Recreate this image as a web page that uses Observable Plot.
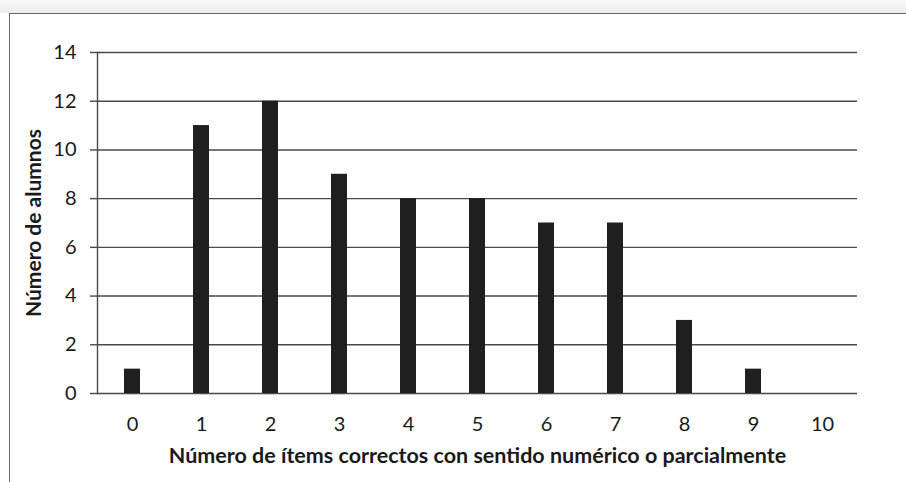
<!DOCTYPE html>
<html>
<head>
<meta charset="utf-8">
<script src="https://cdn.jsdelivr.net/npm/d3@7"></script>
<script src="https://cdn.jsdelivr.net/npm/@observablehq/plot@0.6"></script>
<style>
  html, body { margin: 0; padding: 0; background: #fff; }
  #wrap { position: relative; width: 906px; height: 482px; overflow: hidden; }
  #shade { position: absolute; left: 0; top: 0; width: 906px; height: 13px; background: linear-gradient(#fafafa, #ececec); }
  #border { position: absolute; left: 9px; top: 13px; width: 1000px; height: 1000px; border-left: 1.5px solid #6a6a6a; border-top: 1.5px solid #6a6a6a; box-sizing: border-box; }
  #chart { position: absolute; left: 0; top: 0; }
  svg { font-family: Lato, "Liberation Sans", sans-serif; }
</style>
</head>
<body>
<div id="wrap">
  <div id="shade"></div>
  <div id="border"></div>
  <div id="chart"></div>
</div>
<script>
const categories = ["0", "1", "2", "3", "4", "5", "6", "7", "8", "9", "10"];
const values = [1, 11, 12, 9, 8, 8, 7, 7, 3, 1, 0];
const yTicks = [0, 2, 4, 6, 8, 10, 12, 14];
const xLabel = "Número de ítems correctos con sentido numérico o parcialmente";
const yLabel = "Número de alumnos";

const data = categories.map((c, i) => ({ cat: c, value: values[i] }));

const chart = Plot.plot({
  width: 906,
  height: 482,
  marginLeft: 97,
  marginRight: 49,
  marginTop: 52,
  marginBottom: 89,
  style: { fontFamily: "Lato, 'Liberation Sans', sans-serif", background: "transparent", color: "#1a1a1a" },
  x: { domain: categories, paddingInner: 0.77, paddingOuter: 0.385, align: 0.5 },
  y: { domain: [0, 14] },
  marks: [
    Plot.ruleY(yTicks, { stroke: "#4a4a4a", strokeWidth: 1.4 }),
    Plot.axisY(yTicks, { tickSize: 7, tickPadding: 14, fontSize: 20, label: null, stroke: "#4a4a4a", strokeWidth: 1.4, strokeOpacity: 1, fill: "#1a1a1a" }),
    Plot.frame({ anchor: "left", stroke: "#4a4a4a", strokeWidth: 1.4 }),
    Plot.barY(data, { x: "cat", y: "value", fill: "#1f1f1f" }),
    Plot.axisX({ tickSize: 0, tickPadding: 23, fontSize: 20, label: null, fill: "#1a1a1a" }),
    Plot.text([xLabel], { frameAnchor: "bottom", dy: 69, fontSize: 21.5, fontWeight: "bold", fill: "#1a1a1a" }),
    Plot.text([yLabel], { frameAnchor: "left", textAnchor: "middle", dx: -63, rotate: -90, fontSize: 21, fontWeight: "bold", fill: "#1a1a1a" })
  ]
});
document.getElementById("chart").appendChild(chart);
</script>
</body>
</html>
